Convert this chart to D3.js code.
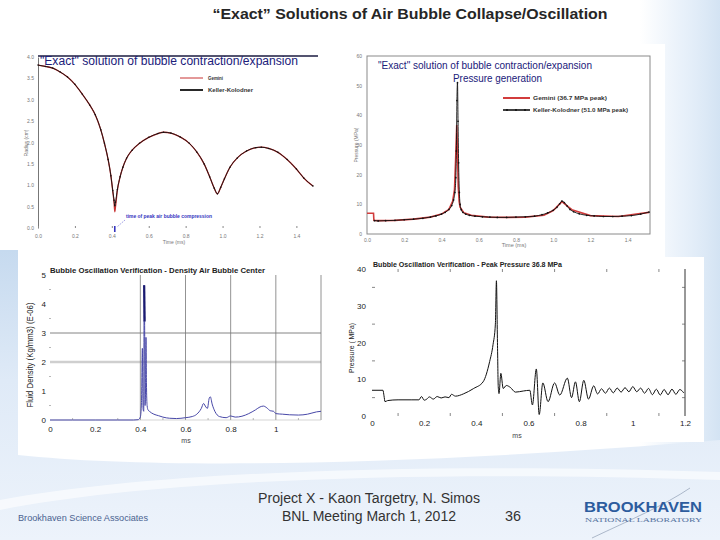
<!DOCTYPE html>
<html><head><meta charset="utf-8">
<script src="https://cdn.jsdelivr.net/npm/d3@7"></script>
<style>body{margin:0;background:#fff}svg{display:block}</style>
</head><body>
<svg id="c" width="720" height="540"></svg>
<script>
// ---------- DATA ----------
// Top-left: bubble radius vs time (ms)
const radT   = [0,0.04,0.08,0.12,0.16,0.2,0.24,0.28,0.31,0.34,0.36,0.38,0.395,0.405,0.412,0.416,0.42,0.43,0.445,0.46,0.48,0.51,0.55,0.6,0.65,0.68,0.72,0.77,0.82,0.86,0.9,0.93,0.955,0.972,0.99,1.01,1.04,1.08,1.13,1.18,1.21,1.25,1.3,1.35,1.4,1.44,1.49];
const radKK  = [3.81,3.78,3.74,3.65,3.53,3.36,3.13,2.88,2.65,2.3,1.98,1.6,1.22,0.88,0.65,0.52,0.6,0.9,1.2,1.42,1.63,1.82,1.98,2.12,2.21,2.24,2.22,2.13,1.98,1.78,1.5,1.2,0.93,0.8,0.95,1.15,1.42,1.64,1.8,1.88,1.89,1.86,1.77,1.6,1.38,1.17,0.98];
const radGem = [3.81,3.78,3.74,3.65,3.53,3.36,3.13,2.88,2.65,2.3,1.98,1.6,1.22,0.86,0.6,0.38,0.5,0.88,1.2,1.42,1.63,1.82,1.98,2.12,2.21,2.24,2.22,2.13,1.98,1.78,1.5,1.2,0.93,0.8,0.95,1.15,1.42,1.64,1.8,1.88,1.89,1.86,1.77,1.6,1.38,1.17,0.98];
const radTicks  = [0,0.5,1,1.5,2,2.5,3,3.5,4];
const timeTicks = [0,0.2,0.4,0.6,0.8,1.0,1.2,1.4];

// Top-right: pressure (MPa) vs time (ms)
const kkT = [0.04,0.06,0.1,0.15,0.2,0.25,0.3,0.34,0.37,0.4,0.42,0.44,0.455,0.465,0.472,0.477,0.48,0.483,0.486,0.489,0.492,0.496,0.5,0.506,0.515,0.53,0.55,0.58,0.62,0.66,0.7,0.75,0.8,0.85,0.9,0.94,0.97,1.0,1.02,1.035,1.047,1.06,1.075,1.09,1.11,1.14,1.18,1.22,1.27,1.32,1.37,1.42,1.47,1.515];
const kkP = [4.5,4.4,4.5,4.6,4.8,5.0,5.3,5.7,6.1,6.7,7.3,8.3,9.6,11.5,14,19,28,45,51,38,24,14,10,8.2,7.3,6.7,6.3,6.0,5.8,5.7,5.6,5.6,5.7,5.8,6.0,6.5,7.1,8.0,9.0,10.2,11.1,10.6,9.4,8.3,7.5,6.8,6.3,6.1,5.9,5.9,6.0,6.2,6.7,7.4];
const gemT = [0,0.035,0.037,0.06,0.15,0.25,0.34,0.4,0.44,0.46,0.47,0.476,0.482,0.486,0.49,0.495,0.5,0.52,0.56,0.65,0.75,0.85,0.95,1.0,1.047,1.1,1.2,1.35,1.515];
const gemP = [7.0,7.0,4.6,4.5,4.6,5.0,5.7,6.7,8.3,11,15,25,36.7,28,16,11,9,7.2,6.3,5.7,5.6,5.7,6.3,7.9,10.9,8.2,6.2,5.9,7.3];
const pTicksTR = [0,10,20,30,40,50,60];

// Bottom-left: density at bubble centre
const densT = [0,0.1,0.2,0.3,0.37,0.39,0.4,0.405,0.409,0.412,0.415,0.417,0.419,0.421,0.423,0.425,0.427,0.43,0.434,0.44,0.46,0.48,0.5,0.53,0.56,0.6,0.63,0.65,0.67,0.68,0.69,0.697,0.705,0.71,0.718,0.73,0.75,0.78,0.8,0.82,0.85,0.88,0.91,0.93,0.945,0.96,0.975,0.99,1.0,1.03,1.06,1.1,1.14,1.18,1.2];
const densV = [0,0,0,0,0,0.01,0.1,0.6,2.47,0.4,0.3,4.65,3.4,0.5,1.0,2.85,1.3,0.5,0.35,0.3,0.2,0.15,0.1,0.06,0.05,0.08,0.12,0.2,0.4,0.57,0.45,0.4,0.75,0.8,0.55,0.3,0.12,0.08,0.14,0.1,0.13,0.22,0.35,0.45,0.48,0.42,0.32,0.3,0.22,0.2,0.18,0.17,0.2,0.28,0.3];
const densYTicks = [0,1,2,3,4,5];
const msTicks = [0,0.2,0.4,0.6,0.8,1];

// Bottom-right: pressure verification
const bpT = [0,0.042,0.046,0.05,0.06,0.1,0.15,0.18,0.19,0.2,0.21,0.22,0.235,0.25,0.265,0.28,0.295,0.305,0.32,0.35,0.39,0.426,0.451,0.464,0.473,0.477,0.481,0.484,0.487,0.494,0.503,0.515,0.53,0.55,0.58,0.605,0.615,0.63,0.641,0.655,0.675,0.70,0.72,0.749,0.765,0.78,0.795,0.812,0.83,0.85,0.865,0.88,0.895,0.91,0.925,0.94,0.955,0.97,0.985,1.0,1.015,1.03,1.045,1.06,1.075,1.09,1.105,1.12,1.135,1.15,1.165,1.18,1.195];
const bpV = [7.0,7.0,5.5,3.9,4.2,4.4,4.4,4.4,5.3,4.3,4.6,5.2,4.6,5.3,4.9,5.2,5.0,5.9,5.4,6.0,7.5,9.3,14.8,19.4,25,36.8,20,8,6.1,11.6,7.5,8.3,7.8,6.5,6.8,7.0,3.0,12.8,0.4,9.0,3.9,9.0,5.7,10.3,5.0,9.3,3.9,9.7,4.6,8.2,6.0,7.4,6.2,7.6,6.3,7.6,6.5,7.7,6.6,8.0,6.6,7.6,6.2,7.5,5.8,7.3,5.7,7.2,5.8,7.3,5.9,7.2,6.3];
const bpYTicks = [0,10,20,30,40];
const bpXTicks = [0,0.2,0.4,0.6,0.8,1,1.2];

// ---------- DRAW ----------
const svg = d3.select("#c");
const defs = svg.append("defs");
const NARROW = "'Liberation Sans Narrow','Arial Narrow','Liberation Sans',Arial,sans-serif";
const SANS = "'Liberation Sans',Arial,sans-serif";

function txt(g, x, y, s, o) {
  o = o || {};
  const t = g.append("text").attr("x", x).attr("y", y).text(s)
    .attr("font-family", o.family || SANS)
    .attr("font-size", o.size || 8)
    .attr("font-weight", o.weight || "normal")
    .attr("fill", o.fill || "#222")
    .attr("text-anchor", o.anchor || "start");
  if (o.len) t.attr("textLength", o.len).attr("lengthAdjust", "spacingAndGlyphs");
  if (o.rotate) t.attr("transform", `rotate(${o.rotate},${x},${y})`);
  return t;
}
function series(ts, vs) { return ts.map((t, i) => [t, vs[i]]); }

// background decorations
const gR = defs.append("linearGradient").attr("id","rb").attr("x1",0).attr("x2",1).attr("y1",0).attr("y2",0);
gR.append("stop").attr("offset",0).attr("stop-color","#e4eef9").attr("stop-opacity",0);
gR.append("stop").attr("offset",0.5).attr("stop-color","#e4eef9").attr("stop-opacity",0.8);
gR.append("stop").attr("offset",1).attr("stop-color","#d3e3f3");
svg.append("rect").attr("x",640).attr("y",0).attr("width",80).attr("height",540).attr("fill","url(#rb)");
const gB = defs.append("linearGradient").attr("id","bb").attr("x1",0).attr("x2",0).attr("y1",0).attr("y2",1);
gB.append("stop").attr("offset",0).attr("stop-color","#c6daef");
gB.append("stop").attr("offset",0.45).attr("stop-color","#dfeaf7");
gB.append("stop").attr("offset",1).attr("stop-color","#edf3fb");
svg.append("path").attr("d","M0,250 L18,250 L18,455 C160,470 420,465 720,440 L720,540 L0,540 Z").attr("fill","url(#bb)");
svg.append("path").attr("d","M0,500 C150,472 420,462 720,472 L720,480 C420,470 150,480 0,510 Z").attr("fill","#ffffff").attr("opacity",0.6);

// white panels
svg.append("rect").attr("x",340).attr("y",44).attr("width",325).attr("height",213).attr("fill","#fff");
svg.append("rect").attr("x",18).attr("y",262).attr("width",314).attr("height",185).attr("fill","#fff");
svg.append("rect").attr("x",340).attr("y",257).attr("width",364).attr("height",185).attr("fill","#fff");

// main title
txt(svg, 410, 19, "\u201CExact\u201D Solutions of Air Bubble Collapse/Oscillation", {size:15, weight:"bold", anchor:"middle", len:395, fill:"#262626"});

// ===== Top-left: radius =====
{
  const g = svg.append("g");
  const x = d3.scaleLinear().domain([0,1.49]).range([38,313]);
  const y = d3.scaleLinear().domain([0,4]).range([228,57]);
  g.append("line").attr("x1",38).attr("x2",318).attr("y1",56).attr("y2",56).attr("stroke","#1b1b40").attr("stroke-width",1.5);
  const ya = d3.axisLeft(y).tickValues(radTicks).tickFormat(d3.format(".1f")).tickSize(0).tickPadding(4);
  const yg = g.append("g").attr("transform","translate(38,0)").call(ya);
  yg.select(".domain").attr("stroke","#777");
  yg.selectAll("text").attr("font-size",5).attr("fill","#777").attr("font-family",SANS);
  const xa = d3.axisBottom(x).tickValues(timeTicks).tickFormat(d3.format(".1f")).tickSizeInner(-2).tickSizeOuter(0).tickPadding(6);
  const xg = g.append("g").attr("transform","translate(0,228)").call(xa);
  xg.select(".domain").remove();
  xg.selectAll("line").attr("stroke","#888");
  xg.selectAll("text").attr("font-size",5).attr("fill","#777").attr("font-family",SANS);
  txt(g, 174, 244, "Time (ms)", {size:5, fill:"#777", anchor:"middle"});
  txt(g, 28, 143, "Radius (cm)", {size:5, fill:"#777", anchor:"middle", rotate:-90});
  const line = d3.line().x(d=>x(d[0])).y(d=>y(d[1])).curve(d3.curveMonotoneX);
  g.append("path").datum(series(radT, radGem)).attr("d", line).attr("fill","none").attr("stroke","#c83232").attr("stroke-width",1.3);
  g.append("path").datum(series(radT, radKK)).attr("d", line).attr("fill","none").attr("stroke","#111").attr("stroke-width",0.9);
  g.selectAll("circle.kk").data(series(radT, radKK)).join("circle").attr("cx",d=>x(d[0])).attr("cy",d=>y(d[1])).attr("r",0.75).attr("fill","#111");
  txt(g, 40, 64.5, "\"Exact\" solution of bubble contraction/expansion", {size:12.5, family:NARROW, len:258, fill:"#20207a"});
  // legend
  g.append("line").attr("x1",180).attr("x2",203).attr("y1",78).attr("y2",78).attr("stroke","#c83232").attr("stroke-width",1);
  txt(g, 208, 80, "Gemini", {size:5, weight:"bold", fill:"#333", len:15});
  g.append("line").attr("x1",180).attr("x2",203).attr("y1",90).attr("y2",90).attr("stroke","#111").attr("stroke-width",1.8);
  txt(g, 208, 92, "Keller-Kolodner", {size:5, weight:"bold", fill:"#333", len:45});
  // annotation
  txt(g, 126, 218, "time of peak air bubble compression", {size:5, weight:"bold", fill:"#3434c0", len:86});
  g.append("line").attr("x1",125).attr("y1",220).attr("x2",117).attr("y2",227).attr("stroke","#7a7ad8").attr("stroke-width",0.7).attr("stroke-dasharray","1.5,1");
  g.append("rect").attr("x",x(0.416)-0.8).attr("y",226).attr("width",1.6).attr("height",6).attr("fill","#3434c0");
}

// ===== Top-right: pressure =====
{
  const g = svg.append("g");
  const x = d3.scaleLinear().domain([0,1.52]).range([367,650]);
  const y = d3.scaleLinear().domain([0,60]).range([234,56]);
  g.append("rect").attr("x",367).attr("y",56).attr("width",283).attr("height",178).attr("fill","none").attr("stroke","#8a8a8a").attr("stroke-width",1);
  const ya = d3.axisLeft(y).tickValues(pTicksTR).tickFormat(d3.format("d")).tickSize(0).tickPadding(5);
  const yg = g.append("g").attr("transform","translate(367,0)").call(ya);
  yg.select(".domain").remove();
  yg.selectAll("text").attr("font-size",5).attr("fill","#777").attr("font-family",SANS);
  const xa = d3.axisBottom(x).tickValues(timeTicks).tickFormat(d3.format(".1f")).tickSize(0).tickPadding(4);
  const xg = g.append("g").attr("transform","translate(0,234)").call(xa);
  xg.select(".domain").remove();
  xg.selectAll("text").attr("font-size",5).attr("fill","#777").attr("font-family",SANS);
  txt(g, 514, 247, "Time (ms)", {size:5.5, fill:"#777", anchor:"middle"});
  txt(g, 358, 145, "Pressure (MPa)", {size:5, fill:"#777", anchor:"middle", rotate:-90});
  const line = d3.line().x(d=>x(d[0])).y(d=>y(d[1])).curve(d3.curveMonotoneX);
  const lineL = d3.line().x(d=>x(d[0])).y(d=>y(d[1]));
  g.append("path").datum(series(gemT, gemP)).attr("d", lineL).attr("fill","none").attr("stroke","#d23c3c").attr("stroke-width",1.6);
  g.append("path").datum(series(kkT, kkP)).attr("d", line).attr("fill","none").attr("stroke","#111").attr("stroke-width",0.9);
  g.selectAll("circle.kk").data(series(kkT, kkP)).join("circle").attr("cx",d=>x(d[0])).attr("cy",d=>y(d[1])).attr("r",0.85).attr("fill","#111");
  txt(g, 378, 69, "\"Exact\" solution of bubble contraction/expansion", {size:10, family:NARROW, len:214, fill:"#20207a"});
  txt(g, 453, 81.5, "Pressure generation", {size:10, family:NARROW, len:89, fill:"#20207a"});
  g.append("line").attr("x1",503).attr("x2",530).attr("y1",98).attr("y2",98).attr("stroke","#d23c3c").attr("stroke-width",2);
  txt(g, 533, 100, "Gemini   (36.7 MPa peak)", {size:5.5, weight:"bold", fill:"#333", len:74});
  g.append("line").attr("x1",503).attr("x2",530).attr("y1",110).attr("y2",110).attr("stroke","#111").attr("stroke-width",1.6);
  [507,516,525].forEach(cx=>g.append("circle").attr("cx",cx).attr("cy",110).attr("r",1).attr("fill","#111"));
  txt(g, 533, 112, "Keller-Kolodner   (51.0 MPa peak)", {size:5.5, weight:"bold", fill:"#333", len:95});
}

// ===== Bottom-left: density =====
{
  const g = svg.append("g");
  const x = d3.scaleLinear().domain([0,1.2]).range([50,321]);
  const y = d3.scaleLinear().domain([0,5]).range([420,275]);
  g.append("line").attr("x1",50).attr("x2",321).attr("y1",y(2)).attr("y2",y(2)).attr("stroke","#cfcfcf").attr("stroke-width",2.5);
  g.append("line").attr("x1",50).attr("x2",321).attr("y1",y(3)).attr("y2",y(3)).attr("stroke","#666").attr("stroke-width",0.8);
  [0.4,0.6,0.8,1.0,1.2].forEach(v=>g.append("line").attr("x1",x(v)).attr("x2",x(v)).attr("y1",275).attr("y2",420).attr("stroke","#777").attr("stroke-width",0.8));
  g.append("line").attr("x1",50).attr("x2",321).attr("y1",420).attr("y2",420).attr("stroke","#bbb").attr("stroke-width",0.6);
  [0.5,1.5,2.5,3.5,4.5].forEach(v=>g.append("line").attr("x1",49).attr("x2",51).attr("y1",y(v)).attr("y2",y(v)).attr("stroke","#999").attr("stroke-width",0.7));
  [0.1,0.3,0.5,0.7,0.9,1.1].forEach(v=>g.append("line").attr("x1",x(v)).attr("x2",x(v)).attr("y1",418).attr("y2",420).attr("stroke","#999").attr("stroke-width",0.7));
  const ya = d3.axisLeft(y).tickValues(densYTicks).tickFormat(d3.format("d")).tickSize(0).tickPadding(4);
  const yg = g.append("g").attr("transform","translate(50,0)").call(ya);
  yg.select(".domain").remove();
  yg.selectAll("text").attr("font-size",8).attr("fill","#222").attr("font-family",SANS);
  const xa = d3.axisBottom(x).tickValues(msTicks).tickFormat(d=>d===0?"0":d===1?"1":d3.format(".1f")(d)).tickSize(0).tickPadding(6);
  const xg = g.append("g").attr("transform","translate(0,420)").call(xa);
  xg.select(".domain").remove();
  xg.selectAll("text").attr("font-size",8).attr("fill","#222").attr("font-family",SANS);
  txt(g, 186, 443, "ms", {size:7, fill:"#444", anchor:"middle"});
  txt(g, 33, 355, "Fluid Density (Kg/mm3) (E-06)", {size:8.5, fill:"#222", anchor:"middle", rotate:-90, len:105});
  txt(g, 50, 273, "Bubble Oscillation Verification - Density Air Bubble Center", {size:8, weight:"bold", fill:"#222", len:215});
  const line = d3.line().x(d=>x(d[0])).y(d=>y(d[1])).curve(d3.curveMonotoneX);
  const pts = series(densT, densV);
  g.append("path").datum(pts).attr("d", line).attr("fill","none").attr("stroke","#4848a8").attr("stroke-width",1);
  g.append("path").datum(pts.slice(11,13)).attr("d", d3.line().x(d=>x(d[0])).y(d=>y(d[1]))).attr("fill","none").attr("stroke","#1a1a70").attr("stroke-width",2.2);
}

// ===== Bottom-right: pressure =====
{
  const g = svg.append("g");
  const x = d3.scaleLinear().domain([0,1.2]).range([372,685]);
  const y = d3.scaleLinear().domain([0,40]).range([416,269]);
  g.append("line").attr("x1",685).attr("x2",685).attr("y1",269).attr("y2",416).attr("stroke","#333").attr("stroke-width",1);
  [5,15,25,35].forEach(v=>{
    g.append("line").attr("x1",372).attr("x2",375).attr("y1",y(v)).attr("y2",y(v)).attr("stroke","#555").attr("stroke-width",0.7);
    g.append("line").attr("x1",682).attr("x2",685).attr("y1",y(v)).attr("y2",y(v)).attr("stroke","#555").attr("stroke-width",0.7);
  });
  [0.1,0.3,0.5,0.7,0.9,1.1].forEach(v=>{
    g.append("line").attr("x1",x(v)).attr("x2",x(v)).attr("y1",269).attr("y2",272).attr("stroke","#555").attr("stroke-width",0.7);
    g.append("line").attr("x1",x(v)).attr("x2",x(v)).attr("y1",413).attr("y2",416).attr("stroke","#555").attr("stroke-width",0.7);
  });
  const ya = d3.axisLeft(y).tickValues(bpYTicks).tickFormat(d3.format("d")).tickSize(0).tickPadding(6);
  const yg = g.append("g").attr("transform","translate(372,0)").call(ya);
  yg.select(".domain").remove();
  yg.selectAll("text").attr("font-size",8).attr("fill","#222").attr("font-family",SANS);
  const xa = d3.axisBottom(x).tickValues(bpXTicks).tickFormat(d=>d===0?"0":d===1?"1":d3.format(".1f")(d)).tickSize(0).tickPadding(4);
  const xg = g.append("g").attr("transform","translate(0,416)").call(xa);
  xg.select(".domain").remove();
  xg.selectAll("text").attr("font-size",8).attr("fill","#222").attr("font-family",SANS);
  txt(g, 517, 438, "ms", {size:7, fill:"#444", anchor:"middle"});
  txt(g, 354, 348, "Pressure ( MPa)", {size:8, fill:"#222", anchor:"middle", rotate:-90, len:50});
  txt(g, 373, 267, "Bubble Oscillation Verification - Peak Pressure 36.8 MPa", {size:7.5, weight:"bold", fill:"#222", len:189});
  const line = d3.line().x(d=>x(d[0])).y(d=>y(d[1])).curve(d3.curveMonotoneX);
  g.append("path").datum(series(bpT, bpV)).attr("d", line).attr("fill","none").attr("stroke","#111").attr("stroke-width",1);
}

// ===== Footer =====
txt(svg, 369, 503, "Project X - Kaon Targetry, N. Simos", {size:14, family:NARROW, anchor:"middle", len:222, fill:"#333"});
txt(svg, 369, 521, "BNL Meeting March 1, 2012", {size:14, family:NARROW, anchor:"middle", len:174, fill:"#333"});
txt(svg, 513, 521, "36", {size:14, family:NARROW, anchor:"middle", len:16, fill:"#333"});
txt(svg, 18, 521, "Brookhaven Science Associates", {size:9, family:NARROW, len:130, fill:"#4a6290"});
svg.append("path").attr("d","M592,538 C630,520 665,505 690,488").attr("fill","none").attr("stroke","#9aa8bc").attr("stroke-width",0.8);
txt(svg, 584, 512, "BROOKHAVEN", {size:15, weight:"bold", family:NARROW, len:118, fill:"#2d5c9e"});
txt(svg, 585, 522, "NATIONAL LABORATORY", {size:7, family:"'Liberation Serif','Times New Roman',serif", len:117, fill:"#55729f"});
</script>
</body></html>
